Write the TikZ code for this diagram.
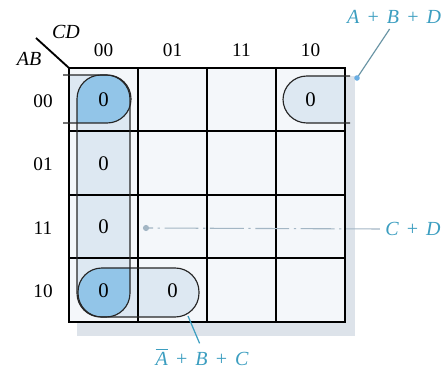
\documentclass[tikz,border=0pt]{standalone}
\usepackage{fontspec}
\setmainfont{Liberation Serif}
\usetikzlibrary{calc}
\definecolor{paleblue}{HTML}{DDE8F2}
\definecolor{darkblue}{HTML}{92C5E8}
\definecolor{labelblue}{HTML}{3C9EC0}
\definecolor{leadergray}{HTML}{6A95A5}
\definecolor{dashgray}{HTML}{A3B6C4}
\definecolor{gridbg}{HTML}{F4F7FA}
\definecolor{shadowgray}{HTML}{DDE3EA}
\tikzset{
    gridline/.style={line width=1.3pt},
    groupline/.style={line width=0.75pt, black!85},
    cellzero/.style={font=\fontsize{13.5}{15}\selectfont},
    maplabel/.style={font=\fontsize{12.5}{14}\selectfont},
    termlabel/.style={text=labelblue, font=\fontsize{13}{15}\selectfont\itshape},
}
\newcommand{\termgap}{\hspace{0.35em}}

\begin{document}
\begin{tikzpicture}[x=0.65pt,y=-0.65pt]
    \def\cellW{69}
    \def\cellH{63.5}
    \def\rad{15.5pt}

    \useasboundingbox (0,0) rectangle (443,372);
    \coordinate (O) at (69,68);

    % shadow and map background
    \fill[shadowgray] (O) ++(8,8) rectangle ++(4*\cellW+2, 4*\cellH+6);
    \fill[gridbg] (O) rectangle ++(4*\cellW,4*\cellH) coordinate (E);

    % pale group fills
    \begin{scope}
        \clip (O) rectangle (E);
        \fill[paleblue, rounded corners=\rad] (77,75) rectangle (130,317);
        \fill[paleblue, rounded corners=\rad] (40,75) -- (131,75) -- (131,123) -- (40,123) -- cycle;
        \fill[paleblue, rounded corners=\rad] (370,76) -- (283,76) -- (283,123) -- (370,123) -- cycle;
        \fill[paleblue, rounded corners=\rad] (78,268) rectangle (199,317);
    \end{scope}

    % overlaps
    \begin{scope}
        \clip[rounded corners=\rad] (77,75) rectangle (130,317);
        \fill[darkblue, rounded corners=\rad] (40,75) -- (131,75) -- (131,123) -- (40,123) -- cycle;
        \fill[darkblue, rounded corners=\rad] (78,268) rectangle (199,317);
    \end{scope}

    % grid
    \foreach \i in {1,2,3} {
        \draw[gridline] ($(O)+(\i*\cellW,0)$) -- ++(0,4*\cellH);
        \draw[gridline] ($(O)+(0,\i*\cellH)$) -- ++(4*\cellW,0);
    }
    \draw[line width=1.6pt] (O) rectangle (E);
    \draw[line width=1.2pt] (O) -- ++(-33,-30) coordinate (H);

    % group outlines
    \draw[groupline, rounded corners=\rad] (77,75) rectangle (130,317);
    \draw[groupline, rounded corners=\rad] (63,75) -- (131,75) -- (131,123) -- (63,123);
    \draw[groupline, rounded corners=\rad] (350,76) -- (283,76) -- (283,123) -- (350,123);
    \draw[groupline, rounded corners=\rad] (78,268) rectangle (199,317);

    % headings
    \node[font=\fontsize{13}{15}\selectfont\itshape] (cd) at (66,32) {CD};
    \node[font=\fontsize{13}{15}\selectfont\itshape] (ab) at (29,59) {AB};
    \foreach \t [count=\k from 0] in {00,01,11,10} {
        \node[maplabel] (col\t) at (103.5+\k*\cellW,50) {\t};
        \node[maplabel] (row\t) at (43,101+\k*\cellH) {\t};
    }

    % cell values
    \foreach \x/\y/\n in {0/0/a, 0/1/b, 0/2/c, 0/3/d, 1/3/e, 3/0/f}
        \node[cellzero] (z\n) at (103.5+\x*\cellW,100+\y*\cellH) {0};

    % terms and leaders
    \node[termlabel] (lblABD) at (394,17) {A\termgap+\termgap B\termgap+\termgap D};
    \coordinate (endABD) at (357,78);
    \draw[leadergray, line width=0.8pt] (lblABD.250) -- (endABD);
    \fill[cyan!70!blue!60] (endABD) circle (1.8pt);

    \node[termlabel] (lblCD) at (413,229) {C\termgap+\termgap D};
    \coordinate (endCD) at (146,228);
    \draw[dashgray, line width=0.7pt, dash pattern=on 22pt off 3pt on 1.5pt off 3pt] (lblCD.west) -- (endCD);
    \fill[dashgray] (endCD) circle (2pt);

    \node[termlabel] (lblABC) at (202,357) {$\overline{\mbox{\itshape A}}$\termgap+\termgap B\termgap+\termgap C};
    \coordinate (endABC) at (188,316);
    \draw[labelblue, line width=0.8pt] (lblABC.100) -- (endABC);
\end{tikzpicture}
\end{document}
